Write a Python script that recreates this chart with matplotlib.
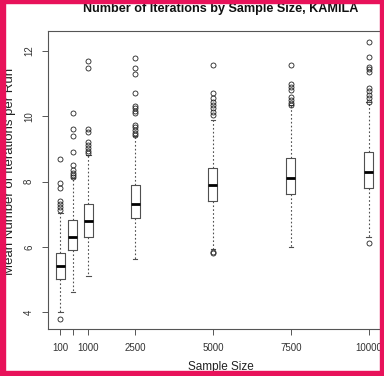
import numpy as np
import matplotlib
matplotlib.use("Agg")
import matplotlib.pyplot as plt

# ---- data (boxplot summary per sample size) ----
sizes = [100, 500, 1000, 2500, 5000, 7500, 10000]
tick_labels = ["100", "", "1000", "2500", "5000", "7500", "10000"]

q1 = [5.01, 5.90, 6.29, 6.89, 7.40, 7.61, 7.79]
med = [5.41, 6.30, 6.80, 7.30, 7.89, 8.10, 8.28]
q3 = [5.81, 6.82, 7.30, 7.89, 8.40, 8.71, 8.90]
whislo = [4.00, 4.60, 5.11, 5.62, 5.92, 6.00, 6.30]
whishi = [7.03, 8.10, 8.82, 9.40, 9.88, 10.35, 10.45]

fliers_100 = [3.80, 7.13, 7.21, 7.30, 7.40, 7.79, 7.95, 8.69]
fliers_500 = [8.15, 8.20, 8.25, 8.35, 8.51, 8.90, 9.40, 9.61, 10.09]
fliers_1000 = [8.87, 8.95, 9.04, 9.12, 9.22, 9.51, 9.61, 11.49, 11.69]
fliers_2500 = [9.43, 9.50, 9.58, 9.66, 9.74, 10.09, 10.17, 10.25, 10.32, 10.70, 11.30, 11.49, 11.80]
fliers_5000 = [5.80, 5.85, 10.04, 10.14, 10.24, 10.34, 10.44, 10.56, 10.70, 11.57]
fliers_7500 = [10.35, 10.42, 10.50, 10.60, 10.80, 10.90, 11.00, 11.57]
fliers_10000 = [6.10, 10.45, 10.55, 10.65, 10.76, 10.86, 11.37, 11.45, 11.52, 11.81, 12.29]
fliers = [fliers_100, fliers_500, fliers_1000, fliers_2500,
          fliers_5000, fliers_7500, fliers_10000]

stats = []
for i in range(len(sizes)):
    stats.append(dict(q1=q1[i], med=med[i], q3=q3[i],
                      whislo=whislo[i], whishi=whishi[i], fliers=fliers[i]))

plt.rcParams["font.family"] = ["Liberation Sans", "DejaVu Sans"]

fig = plt.figure(figsize=(3.84, 3.76), dpi=100)
ax = fig.add_axes([48 / 384, 1 - 329 / 376, 333 / 384, 298 / 376])

ax.bxp(
    stats,
    positions=sizes,
    widths=290,
    patch_artist=False,
    boxprops=dict(color="#505050", linewidth=0.8),
    medianprops=dict(color="black", linewidth=2.0, solid_capstyle="butt"),
    whiskerprops=dict(color="#505050", linewidth=0.8, linestyle=(0, (1.5, 2))),
    capprops=dict(color="#505050", linewidth=0.8),
    capwidths=140,
    flierprops=dict(marker="o", markersize=3.6, markerfacecolor="none",
                    markeredgecolor="#222222", markeredgewidth=0.6),
    manage_ticks=False,
)

ax.set_xlim(-296, 10396)
ax.set_ylim(3.479, 12.613)
ax.set_xticks(sizes)
ax.set_xticklabels(tick_labels)
ax.set_yticks([4, 6, 8, 10, 12])
ax.set_yticklabels(["4", "6", "8", "10", "12"], rotation=90, va="center")

ax.tick_params(axis="both", length=4, width=0.7, color="#555555",
               labelsize=7, labelcolor="#333333")
ax.tick_params(axis="x", pad=6)
ax.tick_params(axis="y", pad=6)
for sp in ax.spines.values():
    sp.set_color("#555555")
    sp.set_linewidth(0.8)

# titles and axis labels (placed as in the cropped reference)
fig.text(221 / 384, 1 - 12 / 376, "Number of Iterations by Sample Size, KAMILA",
         ha="center", va="baseline", fontsize=9.1, fontweight="bold", color="#111111")
fig.text(221 / 384, 1 - 367 / 376, "Sample Size", ha="center", va="center",
         fontsize=8.5, color="#222222")
fig.text(10 / 384, 1 - 171 / 376, "Mean Number of Iterations per Run",
         ha="center", va="center", rotation=90, fontsize=9.5, color="#222222")

# pink frame around the picture
frame_color = "#e8125a"
fig.patches.append(plt.Rectangle((0, 0), 5 / 384, 1, transform=fig.transFigure,
                                 color=frame_color, zorder=10))
fig.patches.append(plt.Rectangle((380 / 384, 0), 4 / 384, 1, transform=fig.transFigure,
                                 color=frame_color, zorder=10))
fig.patches.append(plt.Rectangle((0, 1 - 3 / 376), 1, 3 / 376, transform=fig.transFigure,
                                 color=frame_color, zorder=10))
fig.patches.append(plt.Rectangle((0, 0), 1, 5 / 376, transform=fig.transFigure,
                                 color=frame_color, zorder=10))

fig.savefig("out.png", dpi=100)
